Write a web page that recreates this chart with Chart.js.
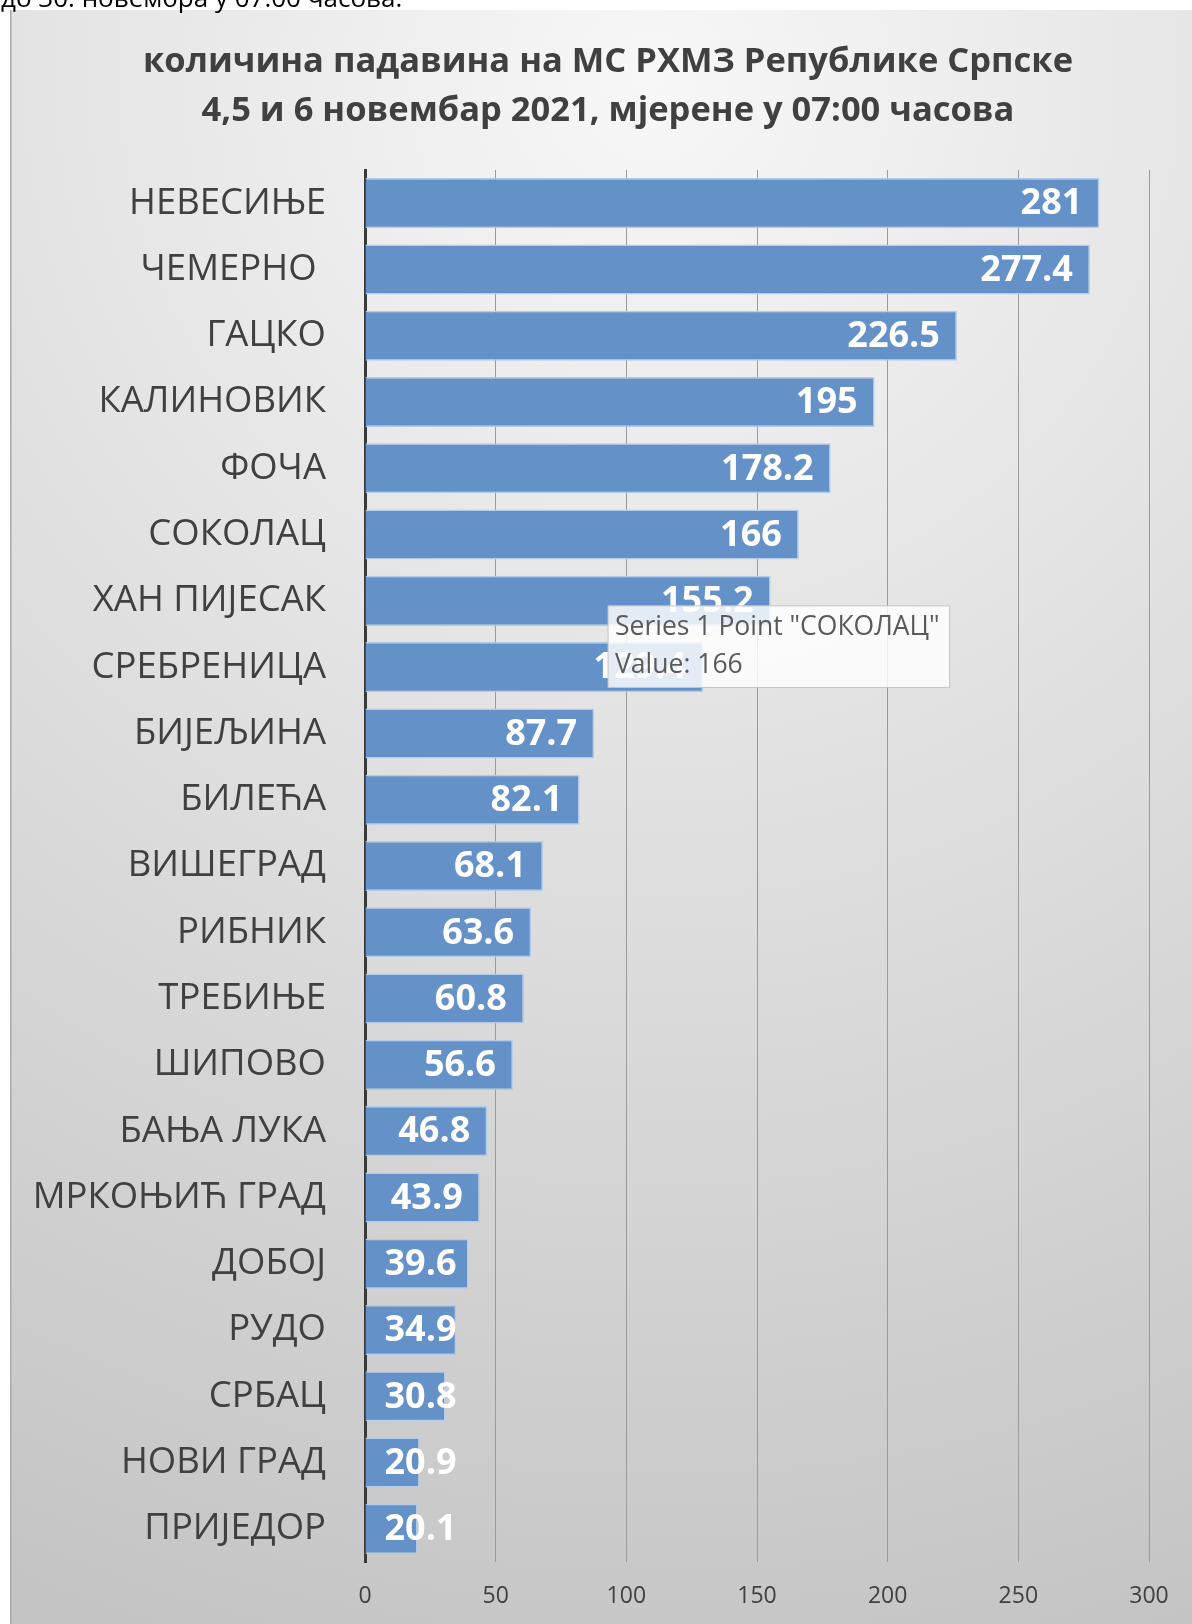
<!DOCTYPE html>
<html>
<head>
<meta charset="utf-8">
<script src="https://cdn.jsdelivr.net/npm/chart.js@4.4.0/dist/chart.umd.min.js"></script>
<style>
  html, body { margin: 0; padding: 0; background: #fff; }
  #wrap { position: relative; width: 1192px; height: 1624px; overflow: hidden; }
  #note { position: absolute; left: 1px; top: -16px; font-family: 'Open Sans', sans-serif; font-size: 26px; line-height: 26px; color: #000; white-space: nowrap; }
  canvas { position: absolute; left: 0; top: 0; }
</style>
</head>
<body>
<div id="wrap">
  <canvas id="stat" width="1192" height="1624"></canvas>
  <div id="note">до 30. новембра у 07:00 часова.</div>
</div>
<script>
var stations = ['НЕВЕСИЊЕ','ЧЕМЕРНО ','ГАЦКО','КАЛИНОВИК','ФОЧА','СОКОЛАЦ','ХАН ПИЈЕСАК','СРЕБРЕНИЦА','БИЈЕЉИНА','БИЛЕЋА','ВИШЕГРАД','РИБНИК','ТРЕБИЊЕ','ШИПОВО','БАЊА ЛУКА','МРКОЊИЋ ГРАД','ДОБОЈ','РУДО','СРБАЦ','НОВИ ГРАД','ПРИЈЕДОР'];
var rainfall = [281,277.4,226.5,195,178.2,166,155.2,129.4,87.7,82.1,68.1,63.6,60.8,56.6,46.8,43.9,39.6,34.9,30.8,20.9,20.1];
var titleLines = ['количина падавина на МС РХМЗ Републике Српске','4,5 и 6 новембар 2021, мјерене у 07:00 часова'];
var hoverIndex = 5;

var FONT = "'Open Sans', sans-serif";

// panel background with soft gradient
const panelBg = {
  id: 'panelBg',
  beforeDraw(chart) {
    const ctx = chart.ctx;
    ctx.save();
    const g = ctx.createRadialGradient(650, 80, 0, 650, 80, 1700);
    g.addColorStop(0, '#f7f7f7');
    g.addColorStop(1, '#c2c2c2');
    ctx.fillStyle = g;
    ctx.fillRect(11, 10, chart.width - 11, chart.height - 10);
    ctx.fillStyle = '#a9a9a9';
    ctx.fillRect(10, 10, 1.5, chart.height - 10);
    ctx.restore();
  }
};

// two line title, centred on the panel
const panelTitle = {
  id: 'panelTitle',
  beforeDatasetsDraw(chart) {
    const ctx = chart.ctx;
    ctx.save();
    ctx.font = 'bold 34.5px ' + FONT;
    ctx.fillStyle = '#404040';
    ctx.textAlign = 'center';
    ctx.textBaseline = 'middle';
    ctx.fillText(titleLines[0], 608, 62);
    ctx.fillText(titleLines[1], 608, 111);
    ctx.restore();
  }
};

// white value labels at the inner end of each bar
const valueLabels = {
  id: 'valueLabels',
  afterDatasetsDraw(chart) {
    const ctx = chart.ctx;
    const meta = chart.getDatasetMeta(0);
    ctx.save();
    ctx.font = 'bold 36px ' + FONT;
    ctx.fillStyle = '#ffffff';
    ctx.textBaseline = 'middle';
    ctx.textAlign = 'left';
    meta.data.forEach(function(bar, i) {
      const txt = String(rainfall[i]);
      const w = ctx.measureText(txt).width;
      const x = Math.max(bar.x - 17 - w, bar.base + 19);
      ctx.fillText(txt, x, bar.y + 1);
    });
    ctx.restore();
  }
};

Chart.Tooltip.positioners.pinned = function(elements, eventPosition) {
  const c = this.chart;
  return { x: c.scales.x.getPixelForValue(93), y: c.scales.y.getPixelForValue(6) + 5 };
};

const rain_chart = document.getElementById('stat').getContext('2d');

let chart1 = new Chart(rain_chart, {
  type: 'bar',
  data: {
    labels: stations,
    datasets: [{
      label: 'Series 1',
      data: rainfall,
      backgroundColor: '#6391c8',
      borderColor: '#b3cbe8',
      borderWidth: 1.5,
      barPercentage: 0.755,
      categoryPercentage: 1
    }]
  },
  options: {
    indexAxis: 'y',
    responsive: false,
    animation: false,
    events: [],
    layout: { padding: { left: 11, right: 43, top: 170, bottom: 0 } },
    plugins: {
      legend: { display: false },
      title: { display: false },
      tooltip: {
        enabled: true,
        position: 'pinned',
        xAlign: 'left',
        yAlign: 'top',
        caretSize: 0,
        caretPadding: 0,
        cornerRadius: 0,
        displayColors: false,
        backgroundColor: 'rgba(255,255,255,0.82)',
        borderColor: '#c4c4c4',
        borderWidth: 1,
        titleColor: '#5a5a5a',
        bodyColor: '#5a5a5a',
        titleFont: { family: FONT, size: 26.5, weight: 'normal' },
        bodyFont: { family: FONT, size: 26.5, weight: 'normal' },
        titleMarginBottom: 6,
        padding: { left: 7, right: 10, top: 6, bottom: 6 },
        callbacks: {
          title: function(items) { return 'Series 1 Point "' + items[0].label + '"'; },
          label: function(item) { return 'Value: ' + item.raw; }
        }
      }
    },
    scales: {
      x: {
        min: 0,
        max: 300,
        ticks: { stepSize: 50, color: '#404040', font: { family: FONT, size: 23 }, padding: 21 },
        grid: { color: '#9a9a9a', lineWidth: 1, drawTicks: false },
        border: { display: false },
        afterFit: function(scale) { scale.height = 62; }
      },
      y: {
        z: 1,
        ticks: { color: '#404040', font: { family: FONT, size: 36.5 }, padding: 39, autoSkip: false },
        grid: { display: false, drawTicks: false },
        border: { display: true, color: '#3a3a3a', width: 3 },
        afterFit: function(scale) { scale.width = 354; }
      }
    }
  },
  plugins: [panelBg, panelTitle, valueLabels]
});

chart1.tooltip.setActiveElements([{ datasetIndex: 0, index: hoverIndex }], { x: 0, y: 0 });
chart1.update();
</script>
</body>
</html>
